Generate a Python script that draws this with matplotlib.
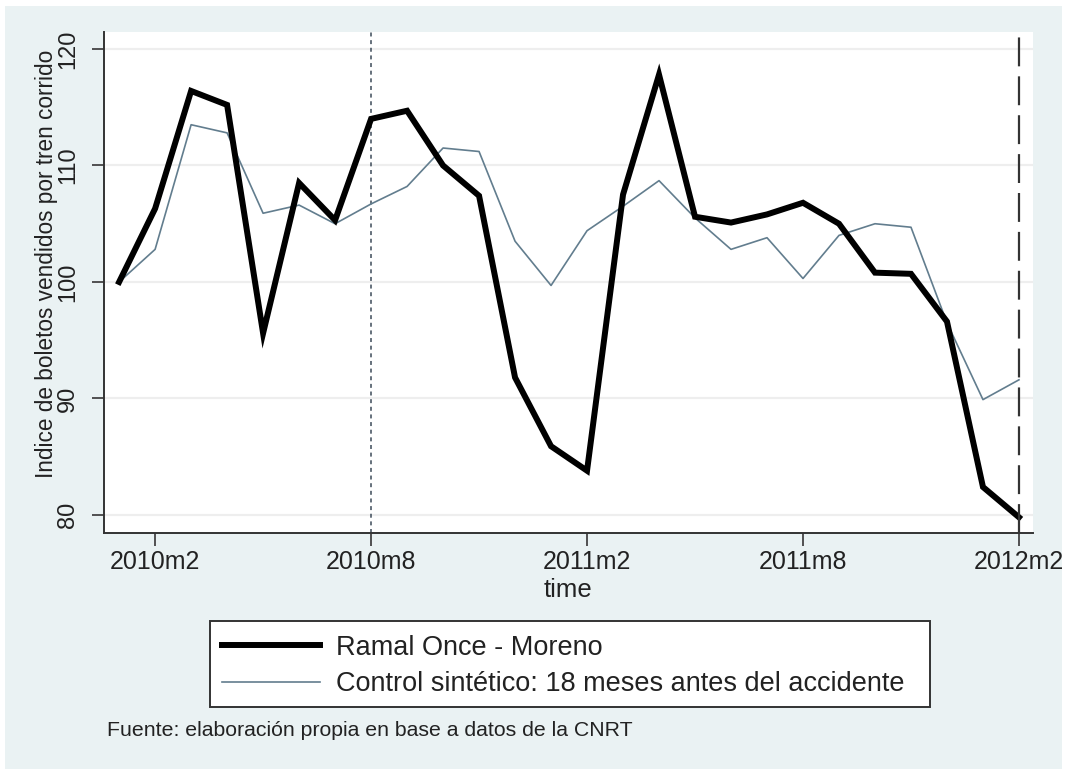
import matplotlib
matplotlib.use("Agg")
import matplotlib.pyplot as plt
from matplotlib.lines import Line2D
from matplotlib.patches import Rectangle

plt.rcParams['font.family'] = ['Liberation Sans', 'DejaVu Sans']

months = ['2010m1', '2010m2', '2010m3', '2010m4', '2010m5', '2010m6', '2010m7',
          '2010m8', '2010m9', '2010m10', '2010m11', '2010m12', '2011m1', '2011m2',
          '2011m3', '2011m4', '2011m5', '2011m6', '2011m7', '2011m8', '2011m9',
          '2011m10', '2011m11', '2011m12', '2012m1', '2012m2']
ramal = [100.0, 106.3, 116.4, 115.2, 95.6, 108.5, 105.3, 114.0, 114.7, 110.0,
         107.4, 91.8, 85.9, 83.8, 107.5, 117.8, 105.6, 105.1, 105.8, 106.8,
         105.0, 100.8, 100.7, 96.6, 82.4, 79.8]
control = [100.0, 102.8, 113.5, 112.8, 105.9, 106.6, 105.0, 106.7, 108.2, 111.5,
           111.2, 103.5, 99.7, 104.4, 106.5, 108.7, 105.5, 102.8, 103.8, 100.3,
           104.0, 105.0, 104.7, 96.5, 89.9, 91.6]
tick_labels = ['2010m2', '2010m8', '2011m2', '2011m8', '2012m2']
y_ticks = [80, 90, 100, 110, 120]
vline_short = '2010m8'
vline_long = '2012m2'

label_ramal = 'Ramal Once - Moreno'
label_control = 'Control sintético: 18 meses antes del accidente'

W, H = 1067, 769
fig = plt.figure(figsize=(W / 100, H / 100), dpi=100)
fig.patch.set_facecolor('white')
fig.patches.append(Rectangle((5 / W, 0), 1 - 10 / W, 1 - 6 / H, transform=fig.transFigure,
                             facecolor='#eaf2f3', edgecolor='none', zorder=-10))

ax = fig.add_axes([104 / W, 1 - 533 / H, (1033 - 104) / W, (533 - 32) / H])
ax.set_facecolor('white')

x = list(range(len(months)))
xi = {m: i for i, m in enumerate(months)}

for v in y_ticks:
    ax.axhline(v, color='#eeeeee', lw=1.6, zorder=0)

ax.plot(x, control, color='#627d8e', lw=1.2, zorder=3, label=label_control)
ax.plot(x, ramal, color='black', lw=4.3, zorder=4, solid_joinstyle='miter', label=label_ramal)

ax.axvline(xi[vline_short], color='#3c4a58', lw=1.1, linestyle=(0, (2.6, 2.4)), zorder=2)
ax.axvline(xi[vline_long], color='#333333', lw=1.6, linestyle=(0, (13, 4.5)), zorder=5)

ax.set_xlim(-0.42, 25.39)
ax.set_ylim(78.45, 121.46)

ax.set_xticks([xi[t] for t in tick_labels])
ax.set_xticklabels(tick_labels, fontsize=18)
ax.set_yticks(y_ticks)
ax.set_yticklabels([str(v) for v in y_ticks], fontsize=17)
for lab in ax.get_yticklabels():
    lab.set_rotation(90)
    lab.set_va('center')
    lab.set_ha('right')

ax.tick_params(axis='both', direction='out', length=9, width=1.3, color='#444444',
               labelcolor='#222222')
ax.tick_params(axis='y', pad=9)
ax.tick_params(axis='x', pad=3)

for s in ['top', 'right']:
    ax.spines[s].set_visible(False)
for s in ['left', 'bottom']:
    ax.spines[s].set_color('#333333')
    ax.spines[s].set_linewidth(1.4)

ax.set_xlabel('time', fontsize=18.5, color='#222222', labelpad=3)
ax.set_ylabel('Indice de boletos vendidos por tren corrido', fontsize=16.3,
              color='#222222', va='center')
ax.yaxis.set_label_coords((47 - 104) / 929, (533 - 264) / 501)

# legend frame drawn in figure pixels
fig.patches.append(Rectangle((210 / W, 1 - 707 / H), 720 / W, 86 / H,
                             transform=fig.transFigure, facecolor='white',
                             edgecolor='#333333', lw=1.4, zorder=1))
handles = [Line2D([], [], color='black', lw=4.3),
           Line2D([], [], color='#627d8e', lw=1.2)]
leg = fig.legend(handles, [label_ramal, label_control], loc='center left',
                 bbox_to_anchor=(214 / W, 1 - 666 / H), borderaxespad=0,
                 fontsize=19.5, frameon=False, handlelength=3.6,
                 handletextpad=0.6, labelspacing=0.38, borderpad=0.3)
leg.set_zorder(2)
for t in leg.get_texts():
    t.set_color('#222222')

fig.text(107 / W, 1 - 730 / H, 'Fuente: elaboración propia en base a datos de la CNRT',
         fontsize=15.3, va='center', ha='left', color='#222222')

fig.savefig('out.png', dpi=100, facecolor=fig.get_facecolor())
